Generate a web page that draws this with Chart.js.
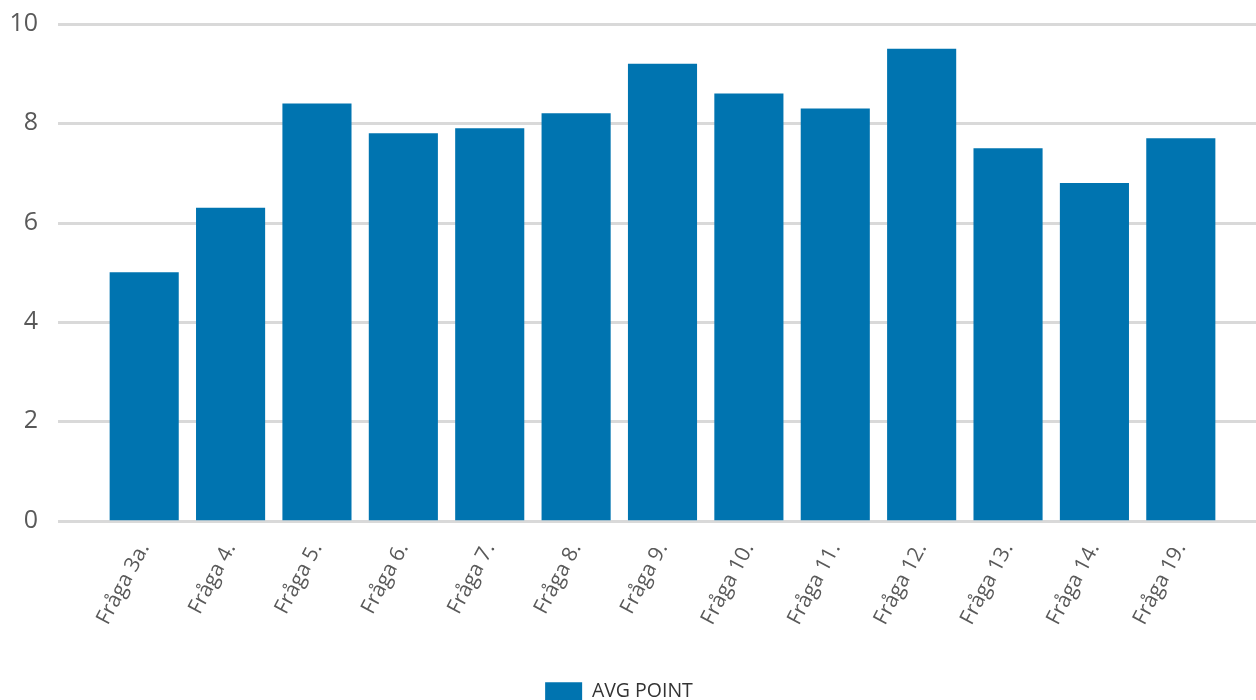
<!DOCTYPE html>
<html>
<head>
<meta charset="utf-8">
<script src="https://cdn.jsdelivr.net/npm/chart.js@4"></script>
<style>
  html, body { margin: 0; padding: 0; background: #fff; }
  #wrap { width: 1256px; height: 700px; }
</style>
</head>
<body>
<div id="wrap"><canvas id="avgChart"></canvas></div>
<script>
// Data
const categories = ["Fråga 3a.", "Fråga 4.", "Fråga 5.", "Fråga 6.", "Fråga 7.", "Fråga 8.", "Fråga 9.",
    "Fråga 10.", "Fråga 11.", "Fråga 12.", "Fråga 13.", "Fråga 14.", "Fråga 19."];
const avgPoint = [5.0, 6.3, 8.4, 7.8, 7.9, 8.2, 9.2, 8.6, 8.3, 9.5, 7.5, 6.8, 7.7];
const seriesName = "AVG POINT";
const yTicks = [0, 2, 4, 6, 8, 10];

// Horizontal grid lines run wider than the bar area in the original
const wideGrid = {
    id: 'wideGrid',
    beforeDatasetsDraw(chart) {
        let y = chart.scales.y;
        let ctx = chart.ctx;
        ctx.save();
        ctx.strokeStyle = '#d9d9d9';
        ctx.lineWidth = 3;
        yTicks.forEach(function (v) {
            let py = Math.round(y.getPixelForValue(v)) + 0.5;
            ctx.beginPath();
            ctx.moveTo(58, py);
            ctx.lineTo(chart.width, py);
            ctx.stroke();
        });
        ctx.restore();
    }
};

let ctx = document.getElementById('avgChart').getContext('2d');
new Chart(ctx, {
    type: 'bar',
    data: {
        labels: categories,
        datasets: [{
            label: seriesName,
            data: avgPoint,
            backgroundColor: '#0074b0',
            borderWidth: 0,
            categoryPercentage: 0.8,
            barPercentage: 1.0
        }]
    },
    options: {
        responsive: true,
        maintainAspectRatio: false,
        animation: false,
        layout: { padding: { top: 24, right: 18, bottom: -11, left: 0 } },
        plugins: {
            tooltip: { enabled: false },
            legend: {
                position: 'bottom',
                labels: {
                    boxWidth: 37,
                    boxHeight: 18,
                    color: '#333',
                    font: { family: 'Open Sans', size: 19.5 },
                    padding: 0
                }
            }
        },
        scales: {
            x: {
                grid: { display: false, drawTicks: false },
                border: { display: false },
                afterFit(axis) {
                    axis.height = 161;
                    axis.paddingLeft = 0;
                    axis.paddingRight = 32;
                },
                ticks: {
                    color: '#595959',
                    font: { family: 'Open Sans', size: 21 },
                    minRotation: 62,
                    maxRotation: 62,
                    autoSkip: false,
                    padding: 18
                }
            },
            y: {
                min: 0,
                max: 10,
                afterBuildTicks(axis) {
                    axis.ticks = yTicks.map(v => ({ value: v }));
                },
                afterFit(axis) {
                    axis.width = 101;
                    axis.paddingTop = 0;
                    axis.paddingBottom = 0;
                },
                grid: { display: false, drawTicks: false },
                border: { display: false },
                ticks: {
                    color: '#595959',
                    font: { family: 'Open Sans', size: 25 },
                    padding: 63
                }
            }
        }
    },
    plugins: [wideGrid]
});
</script>
</body>
</html>
